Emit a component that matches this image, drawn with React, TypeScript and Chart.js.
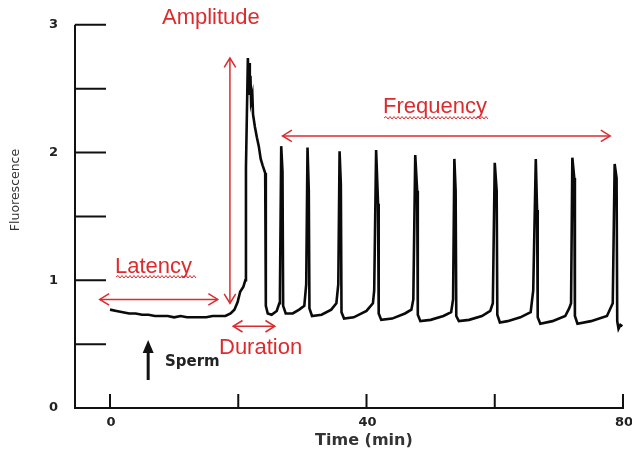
import React, { useEffect, useRef } from 'react';
import Chart from 'chart.js/auto';

// Time (min)
const times = [
  0, 1, 2, 3, 4, 5, 6, 7, 8, 9, 10, 11, 12, 13, 14, 15, 16, 17, 18,
  18.8, 19.4, 19.9, 20.3, 20.8, 21.1, 21.2, 21.5, 21.6, 21.7, 21.8, 21.9, 22.0, 22.2, 22.3,
  22.6, 22.9, 23.2, 23.5, 23.8, 24.2, 24.3, 24.6, 25.2,
  26.0, 26.4, 26.5, 26.7, 26.9, 27.0, 27.4, 28.5,
  29.5, 30.3, 30.6, 30.8, 31.0, 31.1, 31.5, 33,
  34.5, 35.3, 35.6, 35.8, 36.0, 36.1, 36.5, 38,
  40, 41.0, 41.2, 41.5, 41.8, 41.9, 42.3, 44,
  46, 47.0, 47.3, 47.6, 47.9, 48.0, 48.4, 50,
  52, 53.2, 53.5, 53.7, 53.9, 54.0, 54.4, 56,
  58, 59.3, 59.7, 60.0, 60.3, 60.4, 60.8, 62,
  64, 65.6, 66.0, 66.4, 66.6, 66.7, 67.1, 69,
  71, 71.6, 71.9, 72.1, 72.4, 72.5, 72.9, 75,
  77.5, 78.4, 78.7, 79.0, 79.1, 79.3, 79.6, 79.9,
];

// Fluorescence
const fluorescence = [
  0.77, 0.76, 0.75, 0.74, 0.74, 0.73, 0.73, 0.72, 0.72, 0.72, 0.71, 0.72, 0.71, 0.71, 0.71, 0.71, 0.72, 0.72, 0.72,
  0.74, 0.77, 0.83, 0.91, 0.95, 1.0, 1.88, 2.74, 2.55, 2.7, 2.45, 2.6, 2.4, 2.45, 2.3,
  2.2, 2.12, 2.05, 1.95, 1.9, 1.84, 0.8, 0.74, 0.73,
  0.76, 0.82, 0.9, 2.05, 1.85, 0.8, 0.74, 0.74,
  0.77, 0.8, 0.97, 2.04, 1.7, 0.78, 0.72, 0.73,
  0.77, 0.82, 0.97, 2.01, 1.75, 0.75, 0.70, 0.71,
  0.76, 0.82, 0.92, 2.02, 1.6, 0.74, 0.69, 0.70,
  0.74, 0.77, 0.85, 1.98, 1.7, 0.73, 0.68, 0.69,
  0.72, 0.75, 0.85, 1.95, 1.7, 0.72, 0.68, 0.69,
  0.72, 0.76, 0.82, 1.92, 1.7, 0.73, 0.67, 0.68,
  0.71, 0.75, 0.92, 1.95, 1.55, 0.71, 0.66, 0.68,
  0.72, 0.78, 0.82, 1.96, 1.8, 0.72, 0.66, 0.68,
  0.72, 0.82, 1.91, 1.8, 0.68, 0.62, 0.65, 0.64,
];

const xTickValues = [0, 20, 40, 60, 80];
const xTickLabels = ['0', '', '40', '', '80'];
const yTickValues = [0, 0.5, 1, 1.5, 2, 2.5, 3];
const yTickLabels = ['0', '', '1', '', '2', '', '3'];
const xTitle = 'Time (min)';
const yTitle = 'Fluorescence';

const RED = '#dc2b2e';
const ANNOT_FONT = '22px "Liberation Sans", Arial, sans-serif';

function openHead(ctx: CanvasRenderingContext2D, x: number, y: number, angle: number) {
  const len = 11;
  const spread = 0.55;
  ctx.beginPath();
  ctx.moveTo(x - len * Math.cos(angle - spread), y - len * Math.sin(angle - spread));
  ctx.lineTo(x, y);
  ctx.lineTo(x - len * Math.cos(angle + spread), y - len * Math.sin(angle + spread));
  ctx.stroke();
}

function doubleArrow(ctx: CanvasRenderingContext2D, x1: number, y1: number, x2: number, y2: number) {
  ctx.beginPath();
  ctx.moveTo(x1, y1);
  ctx.lineTo(x2, y2);
  ctx.stroke();
  const a = Math.atan2(y2 - y1, x2 - x1);
  openHead(ctx, x2, y2, a);
  openHead(ctx, x1, y1, a + Math.PI);
}

function wavy(ctx: CanvasRenderingContext2D, x1: number, x2: number, y: number) {
  ctx.beginPath();
  let up = true;
  ctx.moveTo(x1, y);
  for (let x = x1 + 2; x <= x2; x += 2) {
    ctx.lineTo(x, up ? y - 1.5 : y + 1);
    up = !up;
  }
  ctx.stroke();
}

const decorPlugin = {
  id: 'decor',
  afterDraw(chart: any) {
    const ctx: CanvasRenderingContext2D = chart.ctx;
    const xs = chart.scales.x;
    const ys = chart.scales.y;
    const px = (v: number) => xs.getPixelForValue(v);
    const py = (v: number) => ys.getPixelForValue(v);
    const { left, bottom } = chart.chartArea;
    ctx.save();

    // axes
    ctx.strokeStyle = '#111';
    ctx.lineWidth = 2;
    ctx.beginPath();
    ctx.moveTo(left, py(3));
    ctx.lineTo(left, bottom);
    ctx.lineTo(px(80) + 1, bottom);
    ctx.stroke();
    ctx.beginPath();
    for (const v of yTickValues) {
      ctx.moveTo(left, py(v));
      ctx.lineTo(left + 31, py(v));
    }
    for (const v of xTickValues) {
      ctx.moveTo(px(v), bottom);
      ctx.lineTo(px(v), bottom - 14);
    }
    ctx.stroke();

    // x tick labels
    ctx.fillStyle = '#222';
    ctx.font = 'bold 13px "DejaVu Sans", sans-serif';
    ctx.textAlign = 'center';
    ctx.textBaseline = 'middle';
    xTickValues.forEach((v, i) => {
      if (xTickLabels[i]) ctx.fillText(xTickLabels[i], px(v) + 1, bottom + 15);
    });

    // axis titles
    ctx.fillStyle = '#333';
    ctx.font = 'bold 16px "DejaVu Sans", sans-serif';
    ctx.fillText(xTitle, px(39.6), 441);
    ctx.save();
    ctx.translate(16, 190);
    ctx.rotate(-Math.PI / 2);
    ctx.font = '12.5px "DejaVu Sans", sans-serif';
    ctx.fillText(yTitle, 0, 0);
    ctx.restore();

    // Sperm arrow
    ctx.strokeStyle = '#111';
    ctx.fillStyle = '#111';
    ctx.lineWidth = 3;
    const sx = px(5.95);
    ctx.beginPath();
    ctx.moveTo(sx, 380);
    ctx.lineTo(sx, 350);
    ctx.stroke();
    ctx.beginPath();
    ctx.moveTo(sx, 340);
    ctx.lineTo(sx - 5.5, 353);
    ctx.lineTo(sx + 5.5, 353);
    ctx.closePath();
    ctx.fill();
    ctx.font = 'bold 15px "DejaVu Sans", sans-serif';
    ctx.textAlign = 'left';
    ctx.textBaseline = 'alphabetic';
    ctx.fillStyle = '#222';
    ctx.fillText('Sperm', 165, 366);

    // red annotations
    ctx.strokeStyle = RED;
    ctx.fillStyle = RED;
    ctx.lineWidth = 1.5;
    doubleArrow(ctx, px(18.7), py(0.82), px(18.7), py(2.74));
    doubleArrow(ctx, px(-1.6), py(0.85), px(16.8), py(0.85));
    doubleArrow(ctx, px(19.2), py(0.64), px(25.7), py(0.64));
    doubleArrow(ctx, px(26.9), py(2.13), px(78.0), py(2.13));

    ctx.font = ANNOT_FONT;
    ctx.textAlign = 'left';
    ctx.textBaseline = 'alphabetic';
    ctx.fillText('Amplitude', 162, 24);
    ctx.fillText('Latency', 115, 273);
    ctx.fillText('Duration', 219, 354);
    ctx.fillText('Frequency', 383, 113);
    ctx.lineWidth = 1;
    wavy(ctx, 116, 196, 277);
    wavy(ctx, 384, 488, 118);
    ctx.restore();
  },
};

export default function App() {
  const ref = useRef<HTMLCanvasElement | null>(null);
  useEffect(() => {
    if (!ref.current) return;
    const chart = new Chart(ref.current, {
      type: 'line',
      data: {
        datasets: [
          {
            data: times.map((t, i) => ({ x: t, y: fluorescence[i] })),
            borderColor: '#0a0a0a',
            borderWidth: 2.6,
            pointRadius: 0,
            tension: 0,
            fill: false,
          },
        ],
      },
      options: {
        animation: false,
        responsive: true,
        maintainAspectRatio: false,
        layout: { padding: { left: 0, right: 4, top: 18, bottom: 0 } },
        plugins: { legend: { display: false }, tooltip: { enabled: false } },
        scales: {
          x: {
            type: 'linear',
            min: -5.46,
            max: 80.78,
            grid: { display: false, drawTicks: false },
            border: { display: false },
            afterFit: (s: any) => { s.height = 47; },
            ticks: { display: false },
          },
          y: {
            type: 'linear',
            min: 0,
            max: 3,
            grid: { display: false, drawTicks: false },
            border: { display: false },
            afterFit: (s: any) => { s.width = 75; },
            afterBuildTicks: (s: any) => { s.ticks = yTickValues.map((v) => ({ value: v })); },
            ticks: {
              padding: 17,
              autoSkip: false,
              color: '#222',
              font: { family: '"DejaVu Sans", sans-serif', size: 13, weight: 'bold' },
              callback: (v: any) => yTickLabels[yTickValues.indexOf(Number(v))] ?? '',
            },
          },
        },
      },
      plugins: [decorPlugin],
    });
    return () => chart.destroy();
  }, []);
  return (
    <div style={{ position: 'fixed', left: 0, top: 0, width: 632, height: 455, background: '#fff' }}>
      <canvas ref={ref} />
    </div>
  );
}
